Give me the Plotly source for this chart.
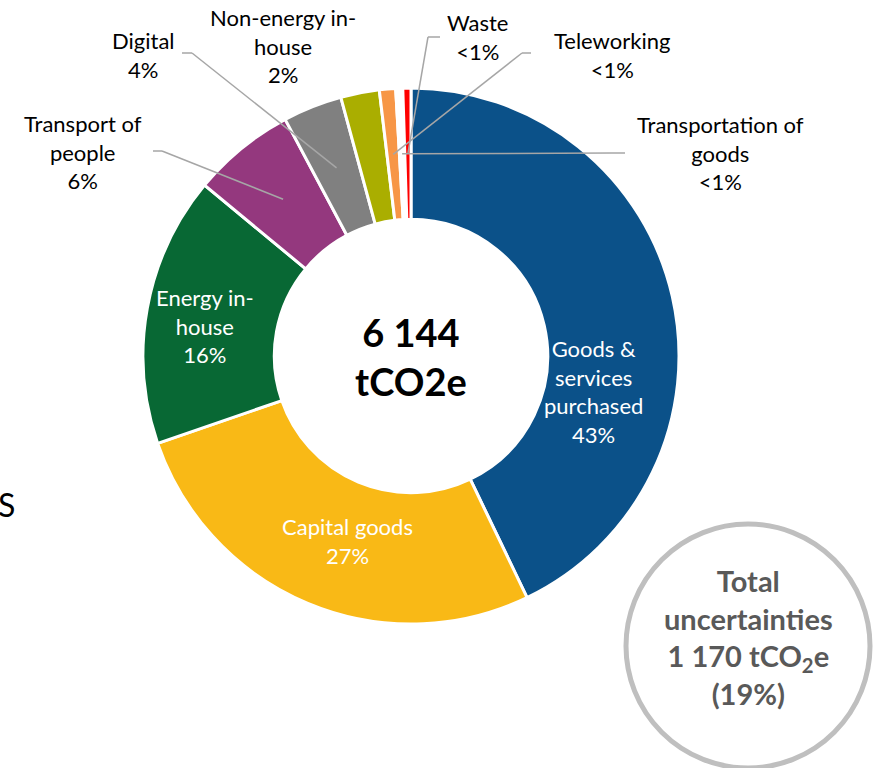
import math
import plotly.graph_objects as go

# ---- data (tCO2e) ----
categories = ["Goods & services purchased", "Capital goods", "Energy in-house",
              "Transport of people", "Digital", "Non-energy in-house",
              "Teleworking", "Transportation of goods", "Waste"]
label_names = ["Goods &<br>services<br>purchased", "Capital goods", "Energy in-<br>house",
               "Transport of<br>people", "Digital", "Non-energy in-<br>house",
               "Teleworking", "Transportation of<br>goods", "Waste"]
values = [2634, 1649, 1001, 382, 219, 143, 60, 26, 30]
colors = ["#0B5189", "#F9B916", "#086834", "#94387E", "#808080", "#AAAE00",
          "#F79646", "#FFFFFF", "#FF0000"]
total_label = "6 144<br>tCO2e"
uncert_label = "Total<br>uncertainties<br>1 170 tCO<sub>2</sub>e<br>(19%)"

W, H = 877, 768
CX, CY, R = 411, 356, 268
HOLE = 0.51
FONT = "Lato, sans-serif"


def px(x):
    return x / W


def py(y):
    return 1 - y / H


total = sum(values)
pcts = []
for v in values:
    p = v / total * 100
    pcts.append("<1%" if p < 1 else f"{round(p)}%")

fig = go.Figure(go.Pie(
    labels=categories, values=values, sort=False, direction="clockwise",
    rotation=0, hole=HOLE, textinfo="none", hoverinfo="label+value+percent",
    marker=dict(colors=colors, line=dict(color="white", width=3)),
    domain=dict(x=[px(CX - R), px(CX + R)], y=[py(CY + R), py(CY - R)]),
))

# label placement (layout): centre px, inside/outside, leader elbow points
label_layout = [
    dict(pos=(593, 391), inside=True),
    dict(pos=(347, 541), inside=True),
    dict(pos=(205, 326), inside=True),
    dict(pos=(83, 152), inside=False, leader=[(153, 151), (162, 151)]),
    dict(pos=(143, 55), inside=False, leader=[(182, 53), (192, 53)]),
    dict(pos=(283, 46), inside=False),
    dict(pos=(612, 55), inside=False, leader=[(531, 53), (522, 53)]),
    dict(pos=(720, 153), inside=False, leader=[(625, 153), (612, 153)]),
    dict(pos=(477, 37), inside=False, leader=[(440, 37), (428, 37)]),
]

annotations = []
shapes = []
cum = 0
mid_r = R * (1 + HOLE) / 2
for name, v, pct, lay in zip(label_names, values, pcts, label_layout):
    a = math.radians((cum + v / 2) / total * 360)
    cum += v
    x, y = lay["pos"]
    annotations.append(dict(
        x=px(x), y=py(y), xref="paper", yref="paper", showarrow=False,
        text=f"{name}<br>{pct}", align="center", xanchor="center", yanchor="middle",
        font=dict(family=FONT, size=22,
                  color="white" if lay["inside"] else "#000000"),
    ))
    if "leader" in lay:
        ex, ey = CX + mid_r * math.sin(a), CY - mid_r * math.cos(a)
        pts = lay["leader"] + [(ex, ey)]
        for (x0, y0), (x1, y1) in zip(pts[:-1], pts[1:]):
            shapes.append(dict(type="line", xref="paper", yref="paper",
                               x0=px(x0), y0=py(y0), x1=px(x1), y1=py(y1),
                               line=dict(color="#A6A6A6", width=1.5), layer="above"))

# centre total
annotations.append(dict(x=px(CX), y=py(CY), xref="paper", yref="paper", showarrow=False,
                        xanchor="center", yanchor="middle",
                        text=f"<b>{total_label}</b>", align="center",
                        font=dict(family=FONT, size=38, color="#000000")))

# uncertainties circle
UX, UY, UR = 748, 646, 122
shapes.append(dict(type="circle", xref="paper", yref="paper",
                   x0=px(UX - UR), x1=px(UX + UR), y0=py(UY + UR), y1=py(UY - UR),
                   line=dict(color="#BFBFBF", width=5), fillcolor="white", layer="above"))
annotations.append(dict(x=px(UX), y=py(637), xref="paper", yref="paper", showarrow=False,
                        xanchor="center", yanchor="middle",
                        text=f"<b>{uncert_label}</b>", align="center",
                        font=dict(family=FONT, size=29, color="#595959")))

# cut-off text at left edge (as in the reference)
annotations.append(dict(x=px(17), y=py(504), xref="paper", yref="paper", showarrow=False,
                        xanchor="right", yanchor="middle", text="S",
                        font=dict(family=FONT, size=32, color="#000000")))

fig.update_layout(
    width=W, height=H, margin=dict(l=0, r=0, t=0, b=0),
    paper_bgcolor="white", plot_bgcolor="white", showlegend=False,
    annotations=annotations, shapes=shapes,
)

fig.write_html("out.html", config={"displayModeBar": False},
               post_script="document.body.style.margin='0';")
